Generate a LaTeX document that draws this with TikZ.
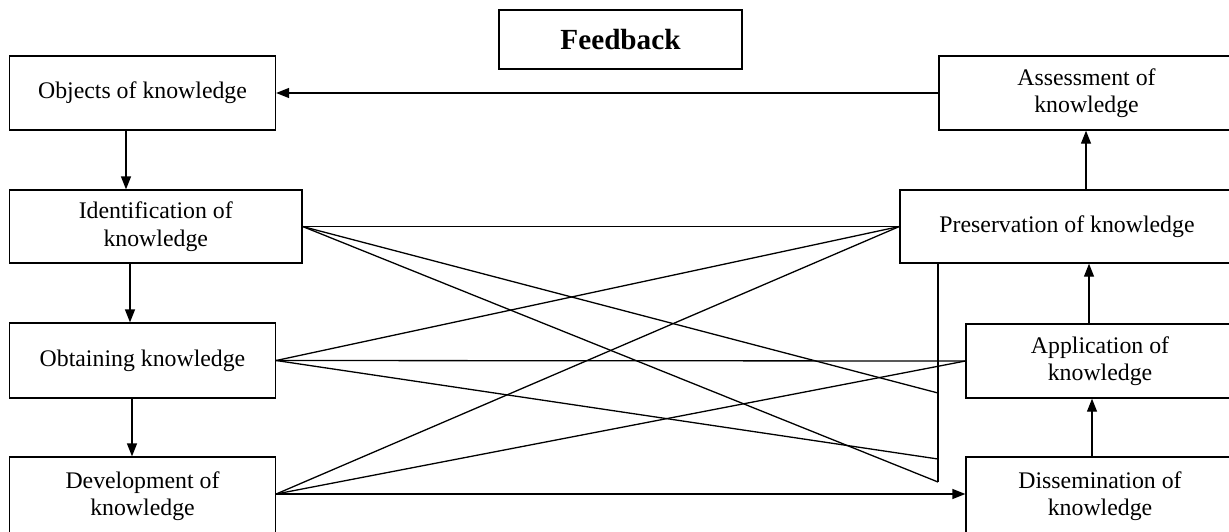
\documentclass[tikz,border=0pt]{standalone}
\usepackage{fontspec}
\setmainfont{Liberation Serif}
\usetikzlibrary{arrows.meta}

\begin{document}
\begin{tikzpicture}[x=0.5pt, y=-0.5pt, line width=0.65pt,
        >={Triangle[length=6.5pt,width=5pt]},
        box/.style={draw, inner sep=0pt, align=center, font=\fontsize{11.9}{13.8}\selectfont}]
                    \useasboundingbox (0,0) rectangle (1229,531);
                    \clip (0,0) rectangle (1229,531);

                    \node (FB) [box, minimum width=121.5pt, minimum height=29.5pt, font=\fontsize{14.6}{16}\selectfont\bfseries] at (620.5, 39.5) {Feedback};
                    \node (OBJ) [box, minimum width=133pt, minimum height=37pt] at (142.5, 93) {Objects of knowledge};
                    \node (IDE) [box, minimum width=146.25pt, minimum height=36.5pt] at (155.75, 226.5) {Identification of\\knowledge};
                    \node (OBT) [box, minimum width=133pt, minimum height=37.5pt] at (142.5, 360.5) {Obtaining knowledge};
                    \node (DEV) [box, minimum width=133pt, minimum height=39pt] at (142.5, 496) {Development of\\knowledge};
                    \node (ASS) [box, minimum width=147.5pt, minimum height=37pt] at (1086.5, 93) {Assessment of\\knowledge};
                    \node (PRE) [box, minimum width=167pt, minimum height=36.5pt] at (1067, 226.5) {Preservation of knowledge};
                    \node (APP) [box, minimum width=134pt, minimum height=37pt] at (1100, 361) {Application of\\knowledge};
                    \node (DIS) [box, minimum width=134pt, minimum height=39pt] at (1100, 496) {Dissemination of\\knowledge};

                    \coordinate (v1) at (938, 393);
                    \coordinate (v2) at (938, 459);
                    \coordinate (v3) at (938, 482);

                    \draw (ASS) edge[->] (OBJ);
                    \draw (OBJ.south -| 126,0) edge[->] (IDE.north -| 126,0);
                    \draw (IDE.south -| 130,0) edge[->] (OBT.north -| 130,0);
                    \draw (OBT.south -| 132,0) edge[->] (DEV.north -| 132,0);
                    \draw (PRE.north -| 1086,0) edge[->] (ASS.south -| 1086,0);
                    \draw (APP.north -| 1089,0) edge[->] (PRE.south -| 1089,0);
                    \draw (DIS.north -| 1092,0) edge[->] (APP.south -| 1092,0);
                    \draw (DEV.east |- 0,494) edge[->] (DIS.west |- 0,494);

                    \draw (IDE.east) edge (PRE.west);
                    \draw (IDE.east) edge (v1);
                    \draw (IDE.east) edge (v3);
                    \draw (OBT.east) edge (PRE.west);
                    \draw (OBT.east) edge (APP.west);
                    \draw (OBT.east) edge (v2);
                    \draw (DEV.east |- 0,494) edge (PRE.west);
                    \draw (DEV.east |- 0,494) edge (APP.west);
                    \draw (PRE.south -| v3) edge (v3);
                \end{tikzpicture}
\end{document}
